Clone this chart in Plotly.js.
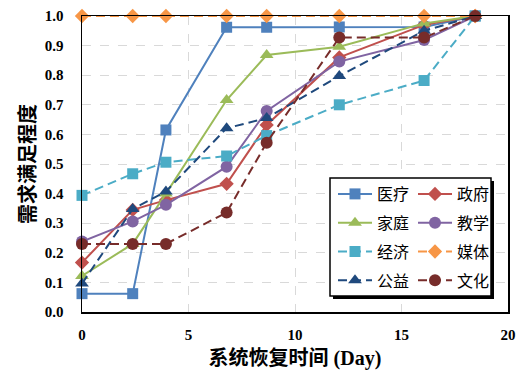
<!DOCTYPE html>
<html><head><meta charset="utf-8">
<script src="https://cdn.plot.ly/plotly-3.0.1.min.js"></script>
<style>html,body{margin:0;padding:0;background:#fff}#c{width:529px;height:378px}</style>
</head><body><div id="c"></div>
<script>
const days = [0, 2.38, 3.94, 6.79, 8.67, 12.08, 16.06, 18.46];
const yiliao  = [0.062, 0.062, 0.615, 0.962, 0.962, 0.963, 0.963, 1.0];
const zhengfu = [0.167, 0.345, 0.378, 0.433, 0.632, 0.860, 0.970, 1.0];
const jiating = [0.122, 0.230, 0.400, 0.716, 0.868, 0.896, 0.975, 1.0];
const jiaoxue = [0.238, 0.306, 0.362, 0.491, 0.679, 0.846, 0.919, 1.0];
const jingji  = [0.394, 0.467, 0.506, 0.527, 0.596, 0.700, 0.782, 1.0];
const meiti   = [1.0, 1.0, 1.0, 1.0, 1.0, 1.0, 1.0, 1.0];
const gongyi  = [0.096, 0.348, 0.407, 0.621, 0.655, 0.797, 0.950, 1.0];
const wenhua  = [0.230, 0.230, 0.230, 0.336, 0.572, 0.927, 0.927, 1.0];
const names = ["医疗","政府","家庭","教学","经济","媒体","公益","文化"];
const xTicks = [0, 5, 10, 15, 20];

const DASH = "9px,5px";
const series = [
  {n:names[0], y:yiliao,  c:"#4F81BD", s:"square",       d:"solid", lg:"legend"},
  {n:names[1], y:zhengfu, c:"#C0504D", s:"diamond",      d:"solid", lg:"legend2"},
  {n:names[2], y:jiating, c:"#9BBB59", s:"triangle-up",  d:"solid", lg:"legend"},
  {n:names[3], y:jiaoxue, c:"#8064A2", s:"circle",       d:"solid", lg:"legend2"},
  {n:names[4], y:jingji,  c:"#4BACC6", s:"square",       d:DASH,    lg:"legend"},
  {n:names[5], y:meiti,   c:"#F79646", s:"diamond",      d:DASH,    lg:"legend2"},
  {n:names[6], y:gongyi,  c:"#1F497D", s:"triangle-up",  d:DASH,    lg:"legend"},
  {n:names[7], y:wenhua,  c:"#772C2A", s:"circle",       d:DASH,    lg:"legend2"}
];
const sizes = {"square":11, "diamond":11, "triangle-up":12, "circle":12};
const traces = series.map((t,i) => ({
  x: days, y: t.y, name: t.n, type: "scatter", mode: "lines+markers",
  line: {color: t.c, width: 2, dash: t.d},
  marker: {symbol: t.s, size: sizes[t.s], color: t.c},
  legend: t.lg, legendgroup: "g"+i, cliponaxis: false
}));

const tickFont = {family: "Liberation Serif", size: 15, color: "#000", weight: 700};
const legFont = {family: "Noto Sans CJK SC", size: 16, color: "#000"};
const titleFont = {family: "Liberation Serif, Noto Sans CJK SC", size: 20, color: "#000", weight: 700};
const L = 82, R = 508, T = 16, B = 312;
const px = v => (v - L) / (R - L);
const py = v => (B - v) / (B - T);

const layout = {
  width: 529, height: 378,
  margin: {l: L, r: 529 - R, t: T, b: 378 - B},
  paper_bgcolor: "#fff", plot_bgcolor: "#fff",
  showlegend: true,
  xaxis: {
    range: [0, 20], tickvals: xTicks, ticktext: xTicks.map(String),
    showgrid: true, gridcolor: "#d9d9d9", griddash: "dash", gridwidth: 1,
    showline: true, linecolor: "#000", linewidth: 1.5, mirror: true,
    ticks: "", zeroline: false, tickfont: tickFont, ticklabelstandoff: 8,
    title: {text: "系统恢复时间 (Day)", font: titleFont, standoff: 9}
  },
  yaxis: {
    range: [0, 1], dtick: 0.1, tickformat: ".1f",
    showgrid: true, gridcolor: "#d9d9d9", griddash: "dash", gridwidth: 1,
    showline: true, linecolor: "#000", linewidth: 1.5, mirror: true,
    ticks: "", zeroline: false, tickfont: tickFont, ticklabelstandoff: 14,
    title: {text: "需求满足程度", font: titleFont, standoff: 4}
  },
  legend: {x: px(333), y: py(177), xanchor: "left", yanchor: "top", bgcolor: "rgba(0,0,0,0)",
           font: legFont, itemwidth: 34, tracegroupgap: 5, borderwidth: 0},
  legend2: {x: px(413), y: py(177), xanchor: "left", yanchor: "top", bgcolor: "rgba(0,0,0,0)",
           font: legFont, itemwidth: 34, tracegroupgap: 5, borderwidth: 0},
  shapes: [
    {type: "rect", xref: "paper", yref: "paper", x0: px(333), x1: px(494), y0: py(181), y1: py(299),
     fillcolor: "#000", line: {width: 0}, layer: "above"},
    {type: "rect", xref: "paper", yref: "paper", x0: px(330), x1: px(491), y0: py(178), y1: py(296),
     fillcolor: "#fff", line: {color: "#000", width: 1.5}, layer: "above"}
  ]
};
Plotly.newPlot("c", traces, layout, {displayModeBar: false, staticPlot: true});
</script>
</body></html>
